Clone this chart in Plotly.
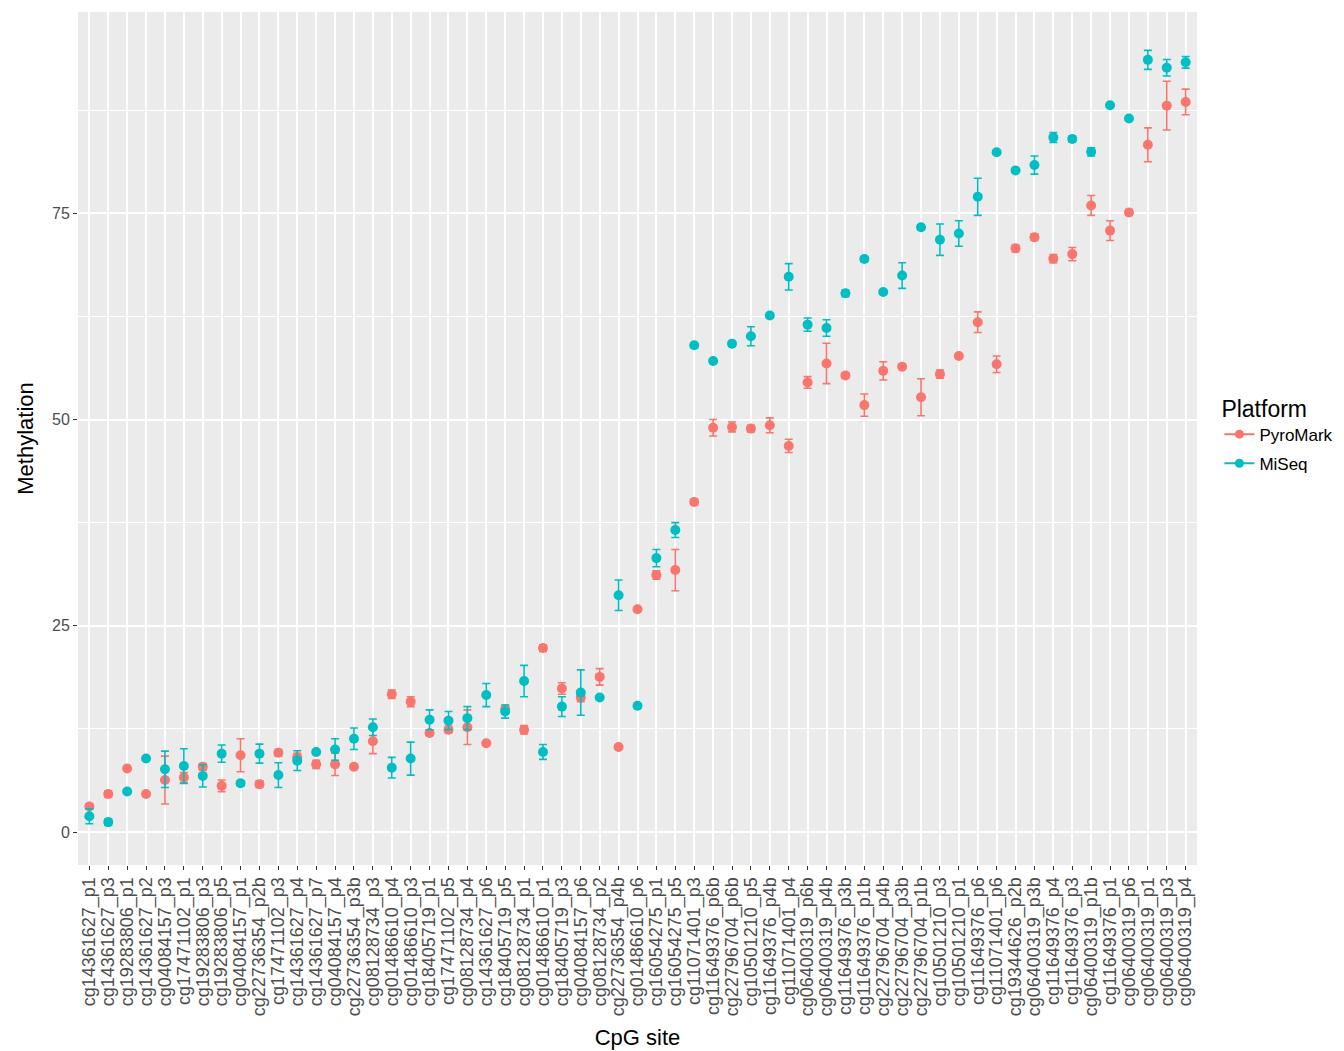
import plotly.graph_objects as go

sites = [
    "cg14361627_p1", "cg14361627_p3", "cg19283806_p1", "cg14361627_p2", "cg04084157_p3",
    "cg17471102_p1", "cg19283806_p3", "cg19283806_p5", "cg04084157_p1", "cg22736354_p2b",
    "cg17471102_p3", "cg14361627_p4", "cg14361627_p7", "cg04084157_p4", "cg22736354_p3b",
    "cg08128734_p3", "cg01486610_p4", "cg01486610_p3", "cg18405719_p1", "cg17471102_p5",
    "cg08128734_p4", "cg14361627_p6", "cg18405719_p5", "cg08128734_p1", "cg01486610_p1",
    "cg18405719_p3", "cg04084157_p6", "cg08128734_p2", "cg22736354_p4b", "cg01486610_p6",
    "cg16054275_p1", "cg16054275_p5", "cg11071401_p3", "cg11649376_p6b", "cg22796704_p6b",
    "cg10501210_p5", "cg11649376_p4b", "cg11071401_p4", "cg06400319_p6b", "cg06400319_p4b",
    "cg11649376_p3b", "cg11649376_p1b", "cg22796704_p4b", "cg22796704_p3b", "cg22796704_p1b",
    "cg10501210_p3", "cg10501210_p1", "cg11649376_p6", "cg11071401_p6", "cg19344626_p2b",
    "cg06400319_p3b", "cg11649376_p4", "cg11649376_p3", "cg06400319_p1b", "cg11649376_p1",
    "cg06400319_p6", "cg06400319_p1", "cg06400319_p3", "cg06400319_p4",
]

pyro_mean = [
    3.1, 4.6, 7.7, 4.6, 6.3, 6.6, 7.9, 5.6, 9.3, 5.8,
    9.6, 9.05, 8.2, 8.2, 7.9, 11.0, 16.7, 15.8, 12.0, 12.4,
    12.7, 10.75, 14.9, 12.4, 22.3, 17.4, 16.3, 18.8, 10.3, 27.0,
    31.15, 31.75, 40.0, 49.0, 49.1, 48.9, 49.3, 46.8, 54.5, 56.8,
    55.35, 51.75, 55.9, 56.4, 52.7, 55.5, 57.7, 61.8, 56.7, 70.75,
    72.1, 69.5, 70.05, 75.95, 72.9, 75.1, 83.3, 88.05, 88.5,
]
pyro_sd = [
    0.3, 0.4, 0.2, 0.2, 2.9, 0.6, 0.4, 0.7, 2.0, 0.4,
    0.4, 0.5, 0.5, 1.35, 0.2, 1.5, 0.5, 0.6, 0.3, 0.4,
    2.1, 0.2, 0.4, 0.5, 0.4, 0.7, 0.5, 1.0, 0.2, 0.2,
    0.5, 2.5, 0.4, 1.0, 0.6, 0.4, 0.9, 0.8, 0.7, 2.45,
    0.3, 1.35, 1.1, 0.3, 2.25, 0.5, 0.2, 1.25, 1.0, 0.4,
    0.4, 0.5, 0.8, 1.2, 1.2, 0.35, 2.05, 2.95, 1.55,
]
miseq_mean = [
    1.9, 1.2, 4.9, 8.9, 7.6, 8.0, 6.8, 9.5, 5.9, 9.5,
    6.9, 8.65, 9.7, 10.0, 11.3, 12.7, 7.8, 8.9, 13.6, 13.5,
    13.8, 16.6, 14.6, 18.3, 9.7, 15.2, 16.9, 16.3, 28.7, 15.3,
    33.2, 36.6, 59.0, 57.1, 59.2, 60.1, 62.6, 67.3, 61.5, 61.1,
    65.3, 69.45, 65.45, 67.45, 73.3, 71.8, 72.55, 77.0, 82.4, 80.2,
    80.85, 84.2, 84.0, 82.45, 88.1, 86.5, 93.6, 92.65, 93.3,
]
miseq_sd = [
    0.9, 0.4, 0.2, 0.2, 2.2, 2.1, 1.35, 1.05, 0.3, 1.15,
    1.5, 1.2, 0.2, 1.3, 1.3, 1.0, 1.25, 2.0, 1.2, 1.1,
    1.4, 1.4, 0.8, 1.9, 0.9, 1.2, 2.75, 0.2, 1.85, 0.2,
    1.05, 0.9, 0.3, 0.2, 0.2, 1.15, 0.3, 1.6, 0.8, 1.0,
    0.4, 0.3, 0.2, 1.55, 0.3, 1.9, 1.55, 2.25, 0.2, 0.2,
    1.1, 0.6, 0.35, 0.5, 0.2, 0.2, 1.15, 1.0, 0.7,
]

platforms = ["PyroMark", "MiSeq"]
colors = {"PyroMark": "#F8766D", "MiSeq": "#00BFC4"}
means = {"PyroMark": pyro_mean, "MiSeq": miseq_mean}
sds = {"PyroMark": pyro_sd, "MiSeq": miseq_sd}

fig = go.Figure()

for p in platforms:
    fig.add_trace(go.Scatter(
        x=sites, y=means[p],
        mode="markers",
        marker=dict(color=colors[p], size=10),
        error_y=dict(type="data", array=sds[p], color=colors[p], thickness=1.6, width=4),
        name=p, showlegend=False,
    ))

# legend keys drawn like ggplot's point + errorbar key
for p in platforms:
    fig.add_trace(go.Scatter(
        x=[None], y=[None], mode="lines+markers",
        marker=dict(color=colors[p], size=9),
        line=dict(color=colors[p], width=2),
        name=p, legendgroup=p,
    ))

# page body has an 8px margin, so margins are set 8px smaller on the top/left
fig.update_layout(
    width=1344, height=1051,
    margin=dict(l=70, r=155, t=4, b=194),
    paper_bgcolor="white",
    plot_bgcolor="#EBEBEB",
    font=dict(family="Liberation Sans, Arial, sans-serif", color="#000000"),
    showlegend=True,
    legend=dict(
        title=dict(text="Platform", font=dict(size=23)),
        font=dict(size=17),
        x=1.02, xanchor="left", y=0.505, yanchor="middle",
        itemwidth=30, tracegroupgap=4,
    ),
    xaxis=dict(
        title=dict(text="CpG site", font=dict(size=22), standoff=14),
        type="category",
        tickmode="array", tickvals=sites, ticktext=sites,
        categoryorder="array", categoryarray=sites,
        range=[-0.6, len(sites) - 0.4],
        tickangle=-90,
        tickfont=dict(size=18, color="#4D4D4D"),
        showgrid=True, gridcolor="white", gridwidth=1.8,
        ticks="outside", ticklen=4, tickcolor="#333333", tickwidth=1,
        zeroline=False, showline=False, automargin=False,
    ),
    yaxis=dict(
        title=dict(text="Methylation", font=dict(size=22), standoff=12),
        range=[-4.0, 99.4],
        tickvals=[0, 25, 50, 75],
        tickfont=dict(size=16, color="#4D4D4D"),
        showgrid=True, gridcolor="white", gridwidth=1.8,
        minor=dict(tick0=12.5, dtick=25, showgrid=True, gridcolor="white", gridwidth=0.8),
        ticks="outside", ticklen=4, tickcolor="#333333", tickwidth=1,
        zeroline=False, showline=False, automargin=False,
    ),
)

fig.write_html("out.html")
